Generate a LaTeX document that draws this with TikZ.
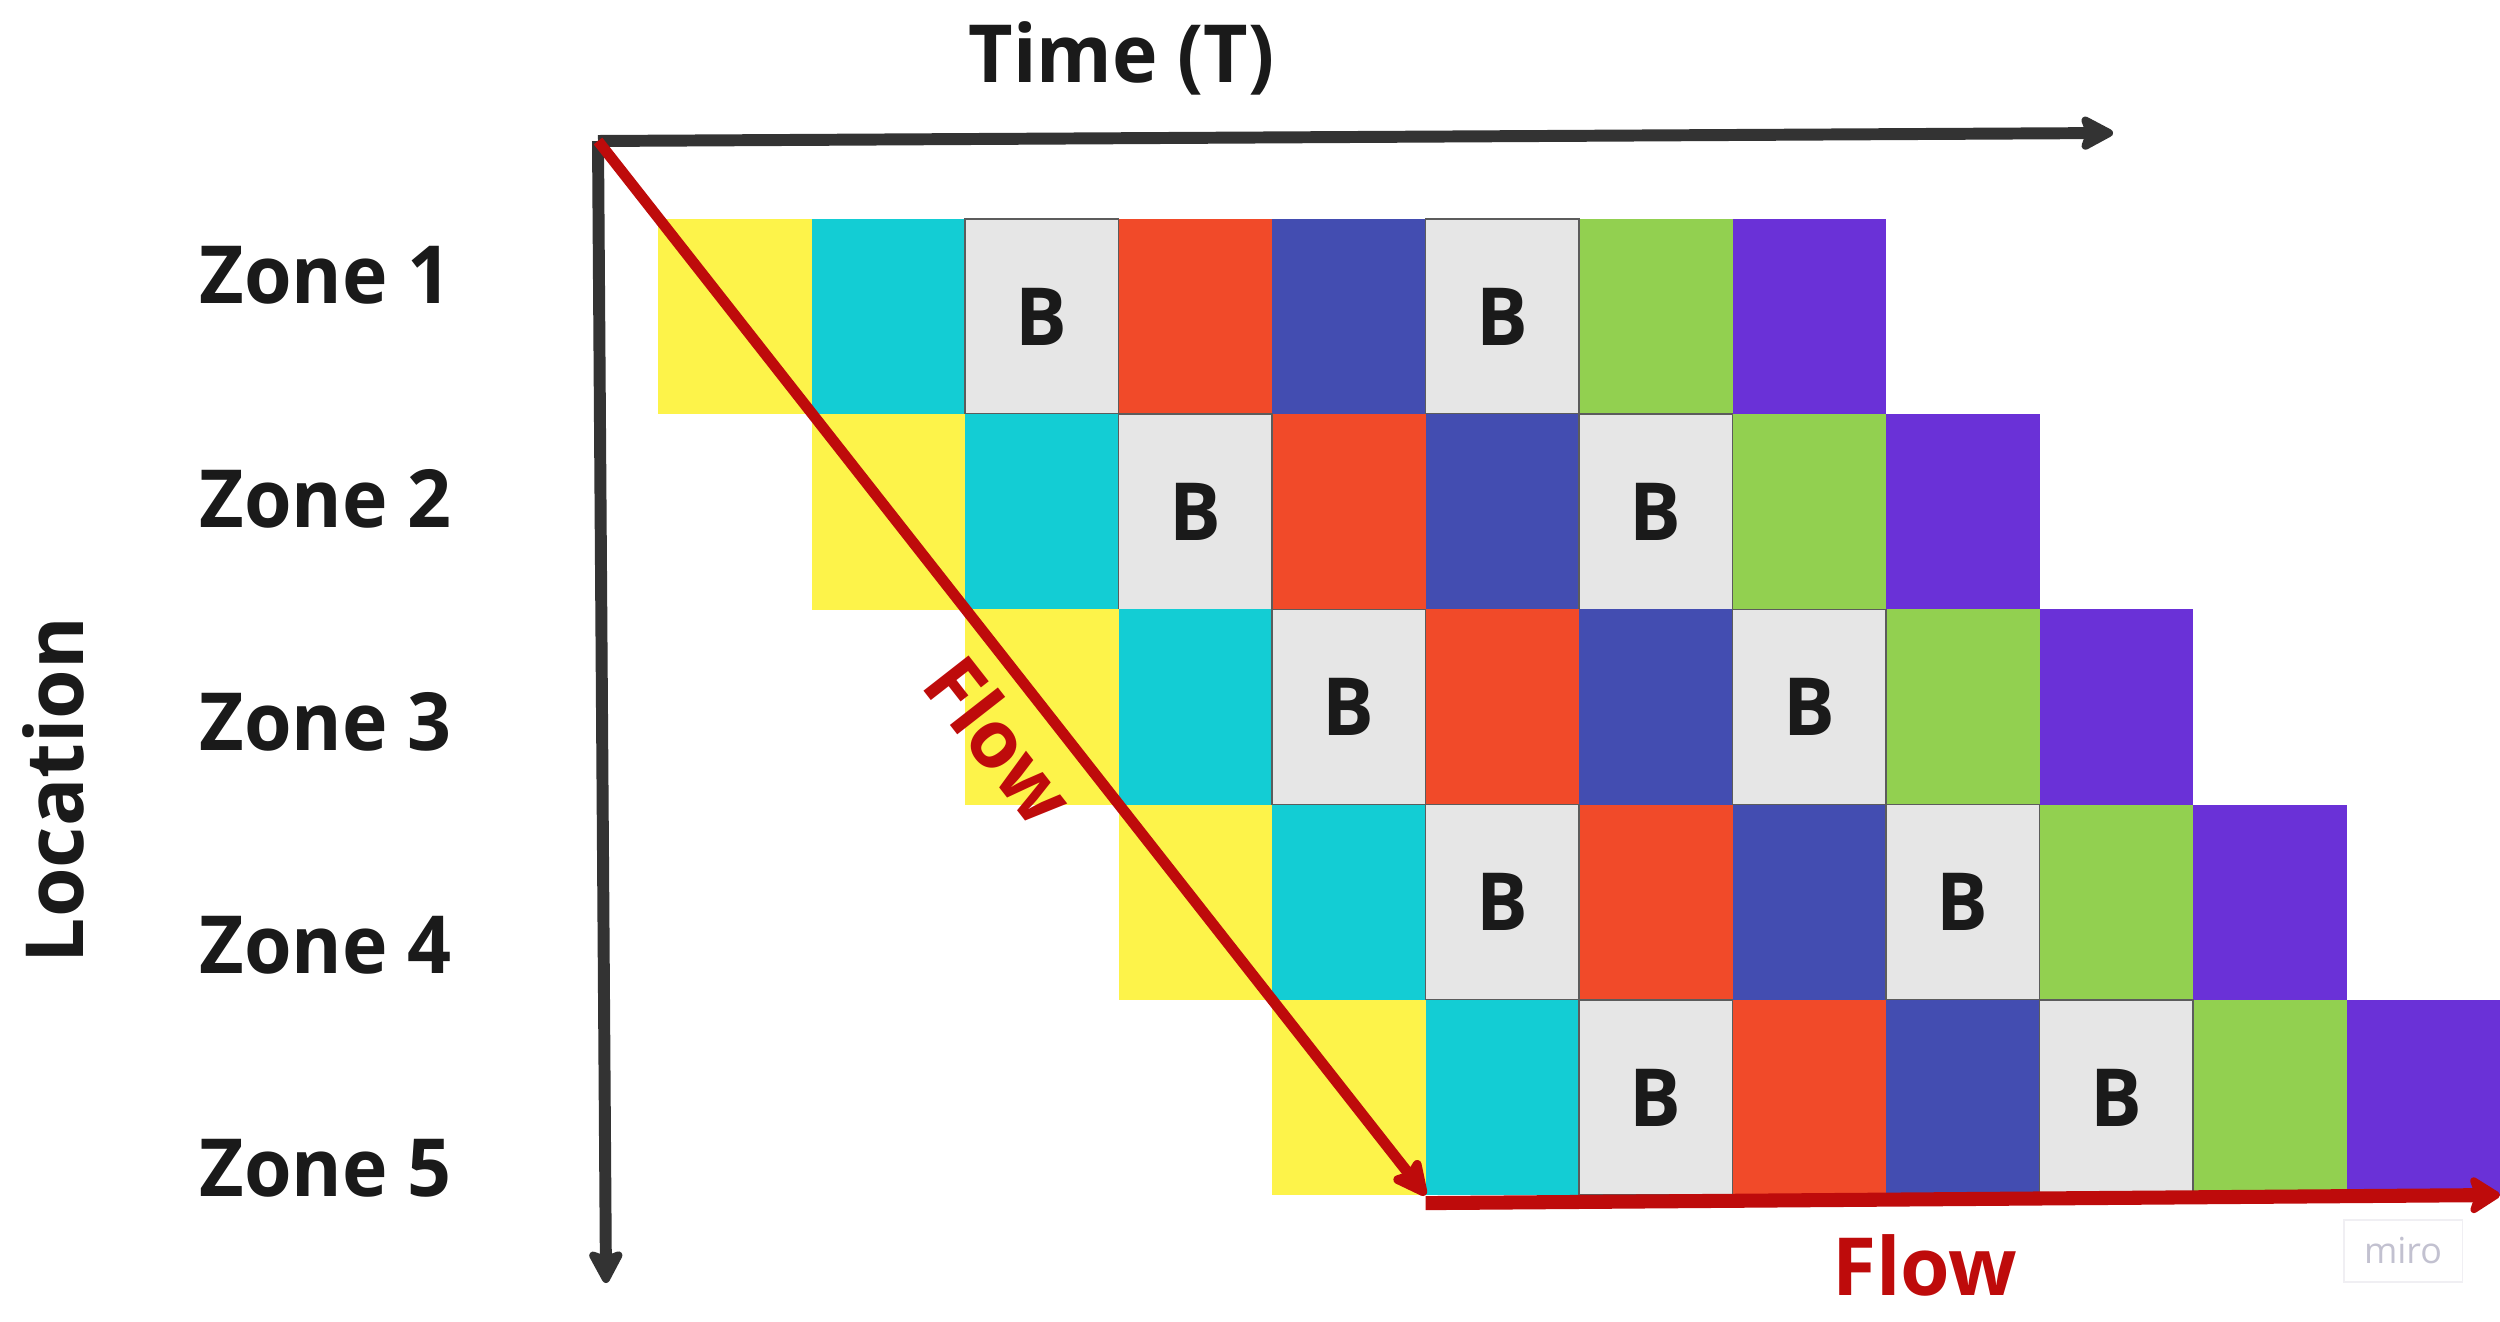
\documentclass[tikz,border=0pt]{standalone}
\usepackage{fontspec}
\setmainfont{Open Sans}
\newfontfamily\zonefont{Open Sans}[FakeStretch=0.96]
\usetikzlibrary{arrows.meta}
\definecolor{zyellow}{HTML}{FDF34A}
\definecolor{zcyan}{HTML}{13CDD4}
\definecolor{zgrey}{HTML}{E6E6E6}
\definecolor{zred}{HTML}{F14A29}
\definecolor{zblue}{HTML}{434DB1}
\definecolor{zgreen}{HTML}{92D050}
\definecolor{zpurple}{HTML}{6A31D7}
\definecolor{axisgrey}{HTML}{333333}
\definecolor{flowred}{HTML}{BE0B0B}
\definecolor{tblack}{HTML}{1A1A1A}
\definecolor{mirogrey}{HTML}{C2C1D0}
\tikzstyle{cell}=[rectangle, inner sep=0pt, outer sep=0pt, minimum width=1.535cm, minimum height=1.952cm, anchor=north west]
\tikzstyle{bcell}=[cell, fill=zgrey, draw=axisgrey!80, line width=0.5pt, text=tblack, font=\zonefont\bfseries\fontsize{22.8}{27}\selectfont]
\tikzstyle{zonetext}=[inner sep=0pt, text=tblack, font=\zonefont\bfseries\fontsize{22.8}{27}\selectfont]
\tikzstyle{loctext}=[inner sep=0pt, text=tblack, font=\bfseries\fontsize{22.8}{27}\selectfont]
\tikzstyle{flowtext}=[inner sep=0pt, text=flowred, font=\bfseries\fontsize{22.8}{27}\selectfont]
\tikzstyle{axis}=[draw=axisgrey, line width=3.4pt, -{Stealth[length=11pt, width=11.5pt, inset=2pt, round]}]
\tikzstyle{flowline}=[draw=flowred, line width=3.1pt, -{Stealth[length=12pt, width=11.5pt, inset=2pt, round]}]
\tikzstyle{flowbase}=[draw=flowred, line width=4pt, -{Stealth[length=10pt, width=12.5pt, inset=2pt, round]}]
\tikzstyle{mirobox}=[draw=mirogrey!25, line width=0.3pt, minimum width=1.18cm, minimum height=0.62cm, text=mirogrey, font=\fontsize{10.2}{12}\selectfont]
\newcommand{\cell}{\node[cell]}
\newcommand{\bcell}{\node[bcell]}

\begin{document}
\begin{tikzpicture}[x=0.01cm, y=-0.01cm]
\useasboundingbox (0,0) rectangle (2500,1322);
\foreach \r in {0,...,4} {
  \foreach \c/\col in {0/zyellow,1/zcyan,3/zred,4/zblue,6/zgreen,7/zpurple}
    \cell[fill=\col] (c\r\c) at ({658+(\r+\c)*153.5},{219+\r*195.2}) {};
  \foreach \c in {2,5}
    \bcell (c\r\c) at ({658+(\r+\c)*153.5},{219+\r*195.2}) {B};
}
\coordinate (origin) at (598,141);
\coordinate (tend) at (2113,133);
\coordinate (lend) at (606,1283);
\coordinate (fend) at (2500,1195);
\draw[axis] (origin) -- (tend);
\draw[axis] (origin) -- (lend);
\draw[flowline] (origin) -- (c40.south east);
\draw[flowbase] ([yshift=-0.08cm]c40.south east) -- (fend);

\node[zonetext, anchor=base west] (time) at (968,83) {Time (T)};
\foreach \i in {1,...,5}
  \node[zonetext, anchor=base west] (zone\i) at (199,{304+(\i-1)*223.2}) {Zone \i};
\node[loctext, rotate=90, anchor=base] (location) at (83,790) {Location};
\node[flowtext, rotate=-52] (flowdiag) at (1000,740) {Flow};
\node[flowtext, anchor=base] (flowbottom) at (1925,1295) {Flow};
\node[mirobox] (miro) at (2403,1251) {miro};
\end{tikzpicture}
\end{document}
